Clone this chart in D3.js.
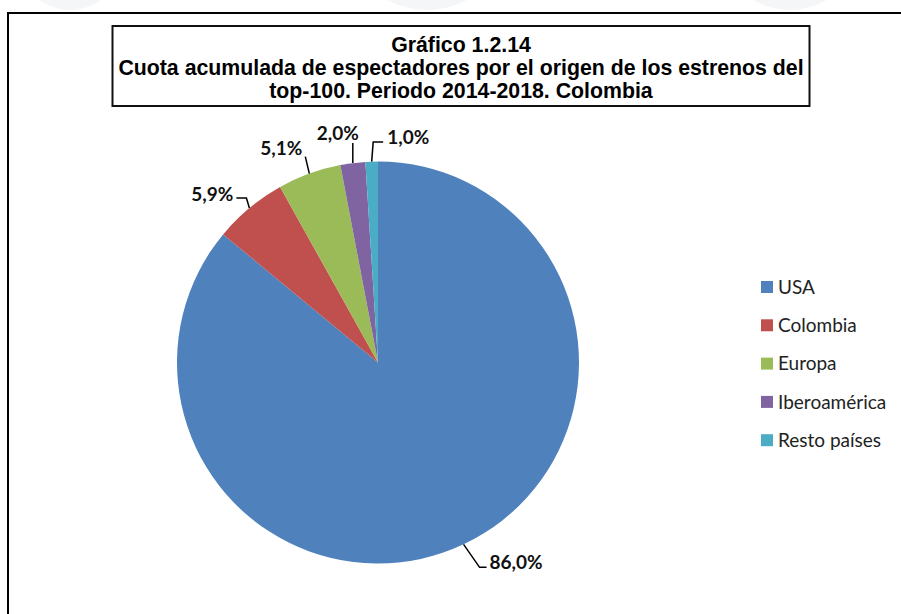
<!DOCTYPE html>
<html>
<head>
<meta charset="utf-8">
<script src="https://cdn.jsdelivr.net/npm/d3@7"></script>
<style>
  html, body { margin: 0; padding: 0; background: #fff; }
  svg { display: block; }
</style>
</head>
<body>
<svg id="chart" width="901" height="614"></svg>
<script>
// data
const categories = ["USA", "Colombia", "Europa", "Iberoamérica", "Resto países"];
const shares = [86.0, 5.9, 5.1, 2.0, 1.0];
const colors = ["#4F81BD", "#C0504D", "#9BBB59", "#8064A2", "#4BACC6"];
const titleLines = [
  "Gráfico 1.2.14",
  "Cuota acumulada de espectadores por el origen de los estrenos del",
  "top-100. Periodo 2014-2018. Colombia"
];

// leader line layout for each label (elbow offset, horizontal run, text offset)
const labelLayout = [
  {ex: 16, ey: 23, run: 7, tx: 3, ty: -5, anchor: "start"},
  {ex: -3, ey: -10, run: -10, tx: -3, ty: -4, anchor: "end"},
  {ex: -4, ey: -17, run: 0, tx: -3, ty: -8, anchor: "end"},
  {ex: 0, ey: -20, run: 0, tx: -15, ty: -10, anchor: "middle"},
  {ex: 1.5, ey: -19.5, run: 10, tx: 4, ty: -5, anchor: "start"}
];

var svg = d3.select("#chart");

// faint background circles at the top of the page
svg.selectAll(".bg")
  .data([[70, -42, 52], [427, -75, 85], [790, -62, 72]])
  .enter().append("circle")
  .attr("cx", d => d[0]).attr("cy", d => d[1]).attr("r", d => d[2])
  .style("fill", "#f5f6f8");

// outer frame (top and left edges visible)
svg.append("path")
  .attr("d", "M8,614 L8,13 L901,13")
  .style("fill", "none")
  .style("stroke", "#000")
  .style("stroke-width", 2);

// title box
svg.append("rect")
  .attr("x", 112.5).attr("y", 26).attr("width", 697).attr("height", 80)
  .style("fill", "#fff")
  .style("stroke", "#111")
  .style("stroke-width", 2);

svg.append("g").selectAll("text")
  .data(titleLines)
  .enter().append("text")
  .attr("x", 461)
  .attr("y", (d, i) => 52 + i * 23)
  .attr("text-anchor", "middle")
  .style("font-family", "'Liberation Sans', Arial, sans-serif")
  .style("font-weight", "bold")
  .style("font-size", "21.3px")
  .style("fill", "#000")
  .text(d => d);

// pie
var cx = 378, cy = 362.5, radius = 201;

var pie = d3.pie().sort(null).value(d => d);
var arcs = pie(shares);
var arc = d3.arc().innerRadius(0).outerRadius(radius);

var g = svg.append("g").attr("transform", "translate(" + cx + "," + cy + ")");

g.selectAll(".slice")
  .data(arcs)
  .enter().append("path")
  .attr("class", "slice")
  .attr("d", arc)
  .style("fill", (d, i) => colors[i]);

var fmt = v => v.toFixed(1).replace(".", ",") + "%";

arcs.forEach(function(d, i) {
  var mid = (d.startAngle + d.endAngle) / 2;
  var p0 = [radius * Math.sin(mid), -radius * Math.cos(mid)];
  var L = labelLayout[i];
  var p1 = [p0[0] + L.ex, p0[1] + L.ey];
  var p2 = [p1[0] + L.run, p1[1]];

  g.append("path")
    .attr("d", d3.line()([p0, p1, p2]))
    .style("fill", "none")
    .style("stroke", "#000")
    .style("stroke-width", 1.5);

  g.append("text")
    .attr("x", p2[0] + L.tx)
    .attr("y", p2[1] + L.ty)
    .attr("dy", "0.35em")
    .attr("text-anchor", L.anchor)
    .style("font-family", "Lato, 'Open Sans', sans-serif")
    .style("font-weight", "bold")
    .style("font-size", "19px")
    .style("fill", "#111")
    .text(fmt(d.data));
});

// legend
var legend = svg.append("g").attr("transform", "translate(761,287)");
var row = legend.selectAll(".row")
  .data(categories)
  .enter().append("g")
  .attr("transform", (d, i) => "translate(0," + (i * 38.3) + ")");

row.append("rect")
  .attr("x", 0).attr("y", -6).attr("width", 12).attr("height", 12)
  .style("fill", (d, i) => colors[i]);

row.append("text")
  .attr("x", 17).attr("y", 0).attr("dy", "0.35em")
  .style("font-family", "Lato, 'Open Sans', sans-serif")
  .style("font-size", "19px")
  .style("fill", "#222")
  .text(d => d);
</script>
</body>
</html>
